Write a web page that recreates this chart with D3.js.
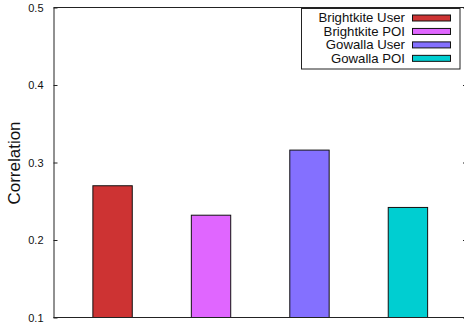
<!DOCTYPE html>
<html>
<head>
<meta charset="utf-8">
<script src="https://cdn.jsdelivr.net/npm/d3@7"></script>
<style>
  html, body { margin: 0; padding: 0; background: #fff; }
  svg { display: block; }
  text { font-family: "Liberation Sans", Arial, Helvetica, sans-serif; fill: #111; }
</style>
</head>
<body>
<script>
const categories = ["Brightkite User", "Brightkite POI", "Gowalla User", "Gowalla POI"];
const values = [0.27, 0.232, 0.316, 0.242];
const colors = ["#cd3333", "#e066ff", "#8470ff", "#00ced1"];
const yTicks = [0.1, 0.2, 0.3, 0.4, 0.5];
const yLabel = "Correlation";

(function () {
const W = 464, H = 328;
const svg = d3.select("body").append("svg").attr("width", W).attr("height", H);

const mLeft = 53.5, mRight = 467, mTop = 7.5, mBottom = 317.5;
const x = d3.scaleLinear().domain([-0.6, 3.6]).range([mLeft, mRight]);
const y = d3.scaleLinear().domain([0.1, 0.5]).range([mBottom, mTop]);
const bw = 0.4;

// bars
svg.selectAll("rect.bar").data(values).enter().append("rect")
  .attr("class", "bar")
  .attr("x", (d, i) => x(i - bw / 2))
  .attr("width", (d, i) => x(i + bw / 2) - x(i - bw / 2))
  .attr("y", d => y(d))
  .attr("height", d => y(0.1) - y(d))
  .attr("fill", (d, i) => colors[i])
  .attr("stroke", "#111")
  .attr("stroke-width", 1);

// left axis
const yAxis = d3.axisLeft(y).tickValues(yTicks).tickFormat(d3.format(".1f")).tickSizeInner(-4).tickSizeOuter(0).tickPadding(10);
const ga = svg.append("g").attr("transform", `translate(${mLeft},0)`).call(yAxis);
ga.select(".domain").attr("stroke", "#222");
ga.selectAll(".tick line").attr("stroke", "#222");
ga.selectAll(".tick text").attr("font-size", 11).attr("font-family", "Liberation Sans, Arial, sans-serif").attr("fill", "#111");

// right mirror ticks
const yAxisR = d3.axisRight(y).tickValues(yTicks).tickFormat("").tickSizeInner(-4).tickSizeOuter(0);
const gr = svg.append("g").attr("transform", `translate(${mRight},0)`).call(yAxisR);
gr.select(".domain").attr("stroke", "#222");
gr.selectAll(".tick line").attr("stroke", "#222");

// top & bottom borders
svg.append("line").attr("x1", mLeft).attr("x2", mRight).attr("y1", y(0.5)).attr("y2", y(0.5)).attr("stroke", "#222");
svg.append("line").attr("x1", mLeft).attr("x2", mRight).attr("y1", y(0.1)).attr("y2", y(0.1)).attr("stroke", "#222");

// y label
svg.append("text")
  .attr("transform", `translate(20,163) rotate(-90)`)
  .attr("text-anchor", "middle")
  .attr("font-size", 17)
  .text(yLabel);

// legend
const lg = svg.append("g");
lg.append("rect").attr("x", 301.5).attr("y", 8.5).attr("width", 158.5).attr("height", 60.5)
  .attr("fill", "#fff").attr("stroke", "#222").attr("stroke-width", 1);
const rowY = i => 18 + i * 13.45;
categories.forEach((c, i) => {
  lg.append("text")
    .attr("transform", `translate(405,${rowY(i) + 4.3}) scale(1.1,1)`)
    .attr("text-anchor", "end").attr("font-size", 12).text(c);
  lg.append("rect").attr("x", 412.5).attr("y", rowY(i) - 3).attr("width", 38).attr("height", 6)
    .attr("fill", colors[i]).attr("stroke", "#111").attr("stroke-width", 1);
});
})();
</script>
</body>
</html>
